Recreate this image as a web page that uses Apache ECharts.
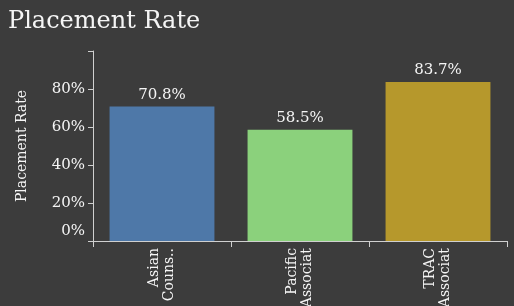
<!DOCTYPE html>
<html>
<head>
<meta charset="utf-8">
<script src="https://cdn.jsdelivr.net/npm/echarts@6/dist/echarts.min.js"></script>
<style>
  html, body { margin: 0; padding: 0; background: #3c3c3c; }
  #chart { width: 514px; height: 306px; }
</style>
</head>
<body>
<div id="chart"></div>
<script>
// data
var categories = ['Asian\nCouns..', 'Pacific\nAssociat', 'TRAC\nAssociat'];
var rates = [70.8, 58.5, 83.7];
var barColors = ['#4e78a8', '#8bd17c', '#b6982c'];
var yTicks = [0, 20, 40, 60, 80];

var serif = 'Georgia, "DejaVu Serif", serif';
var txt = '#f5f5f5';
var myChart = echarts.init(document.getElementById('chart'));

var option = {
    backgroundColor: '#3c3c3c',
    animation: false,
    title: {
        text: 'Placement Rate',
        left: 3,
        top: 5,
        textStyle: { color: txt, fontFamily: serif, fontSize: 24, fontWeight: 'normal' }
    },
    grid: { left: 93, right: 7, top: 51, bottom: 65, outerBoundsMode: 'none', containLabel: false },
    xAxis: {
        type: 'category',
        data: categories,
        axisLine: { lineStyle: { color: '#d0d0d0', width: 1 } },
        axisTick: { show: true, length: 6, lineStyle: { color: '#d0d0d0' } },
        axisLabel: {
            rotate: 90,
            color: txt,
            fontFamily: serif,
            fontSize: 14,
            lineHeight: 15,
            margin: 7
        }
    },
    yAxis: {
        type: 'value',
        min: 0,
        max: 100,
        interval: 20,
        name: 'Placement Rate',
        nameLocation: 'middle',
        nameGap: 64,
        nameTextStyle: { color: txt, fontFamily: serif, fontSize: 14 },
        splitLine: { show: false },
        axisLine: { show: true, lineStyle: { color: '#d0d0d0' } },
        axisTick: { show: true, length: 5, lineStyle: { color: '#d0d0d0' } },
        axisLabel: {
            color: txt,
            fontFamily: serif,
            fontSize: 15,
            margin: 8,
            formatter: function (v) {
                if (yTicks.indexOf(v) < 0) return '';
                if (v === 0) return '{z|0%}';
                return v + '%';
            },
            rich: { z: { color: txt, fontFamily: serif, fontSize: 15, padding: [0, 0, 20, 0] } }
        }
    },
    series: [{
        type: 'bar',
        barCategoryGap: '24%',
        data: rates.map(function (v, i) {
            return { value: v, itemStyle: { color: barColors[i] } };
        }),
        label: {
            show: true,
            position: 'top',
            distance: 4,
            color: txt,
            fontFamily: serif,
            fontSize: 15,
            formatter: function (p) { return p.value.toFixed(1) + '%'; }
        }
    }]
};

myChart.setOption(option);
</script>
</body>
</html>
